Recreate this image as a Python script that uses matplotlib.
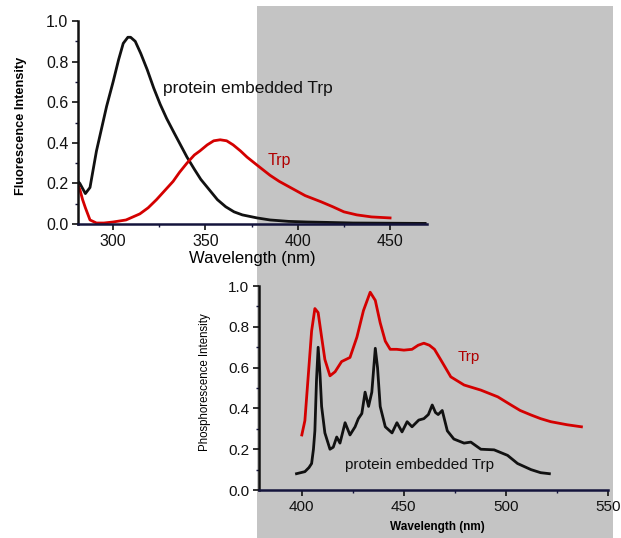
import matplotlib
matplotlib.use("Agg")
import matplotlib.pyplot as plt
from matplotlib.patches import Rectangle
from matplotlib.ticker import MultipleLocator

plt.rcParams["font.family"] = ["Liberation Sans", "DejaVu Sans"]

# --- Fluorescencia (panel superior) ---
fluo_wl_protein = [281, 282, 285, 287.5, 291, 296.5, 300, 303, 305.5, 308, 309.5, 312,
                   315, 318.5, 322, 325.5, 329, 333, 336.5, 340, 344, 347.5, 352, 356.5,
                   361, 365.5, 370, 378, 385, 395, 405, 416, 430, 450, 469]
fluo_protein = [0.21, 0.20, 0.15, 0.18, 0.36, 0.58, 0.70, 0.81, 0.89, 0.92, 0.92, 0.90,
                0.84, 0.76, 0.67, 0.59, 0.52, 0.45, 0.39, 0.33, 0.27, 0.22, 0.17, 0.12,
                0.085, 0.06, 0.045, 0.03, 0.02, 0.013, 0.01, 0.008, 0.005, 0.004, 0.003]

fluo_wl_trp = [281, 282, 283.5, 285, 287.5, 291, 295, 300, 307, 314.5, 319, 323.5, 328,
               332.5, 336, 340, 344, 347, 351, 354.5, 358, 361.5, 365, 369, 372.5, 378,
               385, 390, 396, 404, 412.5, 419, 425, 432, 440, 450]
fluo_trp = [0.19, 0.17, 0.12, 0.08, 0.02, 0.005, 0.005, 0.01, 0.02, 0.05, 0.08, 0.12,
            0.165, 0.21, 0.255, 0.30, 0.34, 0.36, 0.39, 0.41, 0.415, 0.41, 0.39, 0.36,
            0.33, 0.29, 0.24, 0.21, 0.18, 0.14, 0.11, 0.085, 0.06, 0.045, 0.035, 0.03]

# --- Fosforescencia (panel inferior) ---
phos_wl_trp = [400, 401.5, 403, 404.8, 406.4, 408, 409.7, 411.3, 413.8, 416.3, 419.5,
               423.6, 427, 430.2, 433.5, 436, 438.4, 440.9, 443.3, 446.5, 450, 454, 457,
               459.8, 462.5, 465, 468, 473, 479.5, 487.7, 496, 502.5, 507, 512.3, 517,
               522, 530, 537]
phos_trp = [0.27, 0.34, 0.54, 0.78, 0.89, 0.87, 0.75, 0.64, 0.56, 0.58, 0.63, 0.65,
            0.75, 0.88, 0.97, 0.93, 0.82, 0.73, 0.69, 0.69, 0.686, 0.69, 0.71, 0.72,
            0.71, 0.69, 0.64, 0.555, 0.515, 0.49, 0.457, 0.417, 0.39, 0.368, 0.35,
            0.335, 0.32, 0.31]

phos_wl_protein = [397.4, 401.5, 403.5, 404.8, 405.7, 406.4, 407.2, 408, 408.9, 409.7,
                   411.3, 413.8, 415.4, 417.1, 418.7, 421.2, 423.6, 426.1, 427.7, 429.4,
                   431, 432.7, 434.3, 436, 437.1, 438.4, 440.9, 444.2, 446.6, 449.1,
                   451.6, 454, 457.3, 459.8, 462, 463.9, 465.5, 466.8, 468.8, 471.3,
                   474.5, 479.5, 482.8, 487.7, 494.2, 500.8, 505.7, 512.3, 517, 521.3]
phos_protein = [0.08, 0.09, 0.11, 0.13, 0.20, 0.29, 0.54, 0.70, 0.57, 0.41, 0.28, 0.20,
                0.21, 0.26, 0.23, 0.33, 0.27, 0.31, 0.35, 0.375, 0.48, 0.41, 0.48,
                0.695, 0.60, 0.41, 0.31, 0.28, 0.33, 0.285, 0.335, 0.31, 0.343, 0.35,
                0.37, 0.417, 0.38, 0.37, 0.39, 0.29, 0.25, 0.23, 0.235, 0.20, 0.197,
                0.17, 0.13, 0.10, 0.085, 0.08]

RED = "#d40000"
BLACK = "#111111"
NAVY = "#14143c"

fig = plt.figure(figsize=(6.21, 5.38), dpi=100)

# fondo gris detrás del panel inferior
fig.patches.append(Rectangle((0.4138, 0.0), 0.5733, 0.9888, transform=fig.transFigure,
                             facecolor="#c4c4c4", edgecolor="none", zorder=-1))


def estilo(ax, xlim, xmaj, label_size):
    ax.set_facecolor("none")
    ax.set_xlim(*xlim)
    ax.set_ylim(0, 1.0)
    ax.spines["top"].set_visible(False)
    ax.spines["right"].set_visible(False)
    ax.spines["left"].set_color(BLACK)
    ax.spines["bottom"].set_color(NAVY)
    ax.spines["left"].set_linewidth(1.8)
    ax.spines["bottom"].set_linewidth(1.8)
    ax.xaxis.set_major_locator(MultipleLocator(xmaj))
    ax.xaxis.set_minor_locator(MultipleLocator(xmaj / 2))
    ax.yaxis.set_major_locator(MultipleLocator(0.2))
    ax.yaxis.set_minor_locator(MultipleLocator(0.1))
    ax.tick_params(which="major", direction="out", length=4, width=1.2,
                   labelsize=label_size, colors=BLACK, pad=3)
    ax.tick_params(which="minor", direction="out", length=2, width=1.0, colors=NAVY)
    ax.yaxis.set_major_formatter(matplotlib.ticker.FormatStrFormatter("%.1f"))


# Panel superior: fluorescencia
ax1 = fig.add_axes([0.1256, 0.5836, 0.562, 0.3773])
ax1.plot(fluo_wl_protein, fluo_protein, color=BLACK, linewidth=2.0)
ax1.plot(fluo_wl_trp, fluo_trp, color=RED, linewidth=2.0)
estilo(ax1, (281, 470), 50, 11.5)
ax1.text(163 / 621, 1 - 89 / 538, "protein embedded Trp", transform=fig.transFigure,
         fontsize=12.5, color=BLACK, va="center", ha="left")
ax1.text(268 / 621, 1 - 160 / 538, "Trp", transform=fig.transFigure,
         fontsize=11.5, color="#b00000", va="center", ha="left")
fig.text(252 / 621, 1 - 259 / 538, "Wavelength (nm)", fontsize=12,
         ha="center", va="center")
fig.text(21 / 621, 1 - 126 / 538, "Fluorescence Intensity", fontsize=9.2,
         fontweight="bold", rotation=90, ha="center", va="center")

# Panel inferior: fosforescencia
ax2 = fig.add_axes([0.417, 0.0892, 0.562, 0.379])
ax2.plot(phos_wl_trp, phos_trp, color=RED, linewidth=2.0)
ax2.plot(phos_wl_protein, phos_protein, color=BLACK, linewidth=2.0)
estilo(ax2, (379, 550), 50, 11)
ax2.text(458 / 621, 1 - 357 / 538, "Trp", transform=fig.transFigure,
         fontsize=11, color="#b00000", va="center", ha="left")
ax2.text(345 / 621, 1 - 465 / 538, "protein embedded Trp", transform=fig.transFigure,
         fontsize=11, color=BLACK, va="center", ha="left")
fig.text(437 / 621, 1 - 527 / 538, "Wavelength (nm)", fontsize=8.5,
         fontweight="bold", ha="center", va="center")
fig.text(205 / 621, 1 - 382 / 538, "Phosphorescence Intensity", fontsize=8.3,
         rotation=90, ha="center", va="center")

fig.savefig("out.png", dpi=100)
plt.close(fig)
